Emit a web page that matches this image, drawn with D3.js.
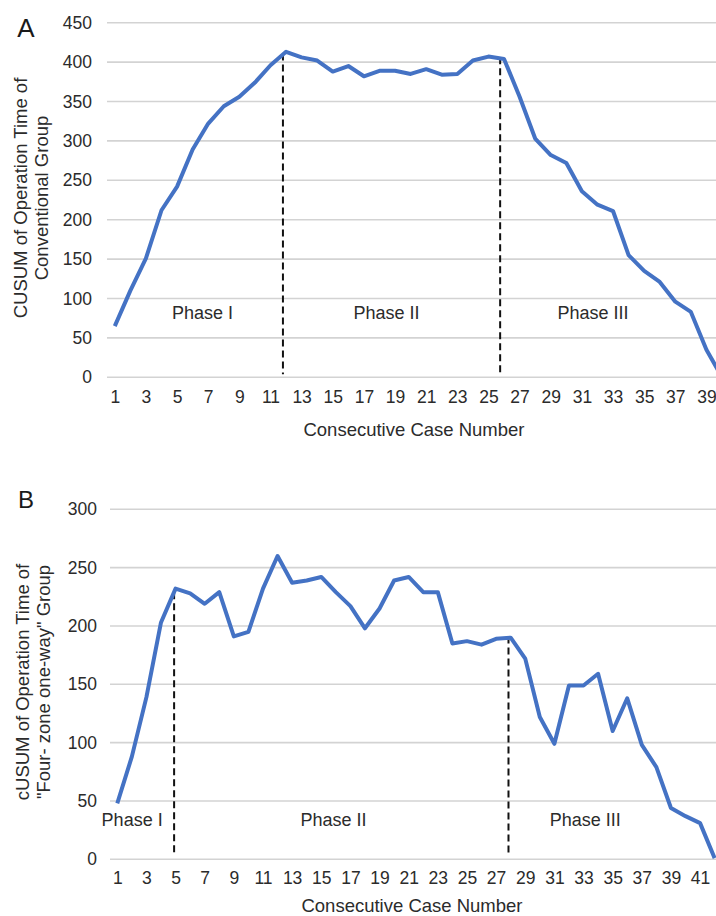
<!DOCTYPE html>
<html>
<head>
<meta charset="utf-8">
<script src="https://cdn.jsdelivr.net/npm/d3@7"></script>
<style>
  body { margin: 0; background: #fff; }
  svg { display: block; font-family: "Liberation Sans", Arial, Helvetica, sans-serif; }
</style>
</head>
<body>
<div id="chart"></div>
<script>
// ---- data ----
const casesA = d3.range(1, 41);
const cusumA = [65, 110, 151, 212, 242, 289, 322, 344, 356, 374,
                396, 413, 406, 402, 388, 395, 382, 389, 389, 385,
                391, 384, 385, 402, 407, 404, 356, 303, 282, 272,
                236, 219, 211, 155, 135, 121, 96, 83, 35, 0];
const yTicksA = [0, 50, 100, 150, 200, 250, 300, 350, 400, 450];
const breaksA = [{at: 11.8, top: 411}, {at: 25.75, top: 406}];
const phasesA = [{label: "Phase I", at: 6.63, v: 82},
                 {label: "Phase II", at: 18.45, v: 82},
                 {label: "Phase III", at: 31.72, v: 82}];

const casesB = d3.range(1, 43);
const cusumB = [48, 88, 139, 203, 232, 228, 219, 229, 191, 195,
                232, 260, 237, 239, 242, 229, 217, 198, 215, 239,
                242, 229, 229, 185, 187, 184, 189, 190, 172, 122,
                99, 149, 149, 159, 110, 138, 98, 79, 44, 37,
                31, 1];
const yTicksB = [0, 50, 100, 150, 200, 250, 300];
const breaksB = [{at: 4.9, top: 229}, {at: 27.85, top: 191}];
const phasesB = [{label: "Phase I", at: 2.02, v: 34},
                 {label: "Phase II", at: 15.84, v: 34},
                 {label: "Phase III", at: 33.12, v: 34}];

const width = 716, height = 916;
const svg = d3.select("#chart").append("svg")
  .attr("width", width)
  .attr("height", height);

function drawPanel(p) {
  const g = svg.append("g");

  const x = d3.scalePoint()
    .domain(p.cases)
    .range([p.left, p.left + p.cases.length * p.step])
    .padding(0.5);
  const xv = c => x(p.cases[0]) + (c - p.cases[0]) * x.step();

  const y = d3.scaleLinear()
    .domain([0, d3.max(p.yTicks)])
    .range([p.bottom, p.top]);

  // gridlines
  g.selectAll(".grid")
    .data(p.yTicks)
    .join("line")
    .attr("class", "grid")
    .attr("x1", p.left)
    .attr("x2", width + 20)
    .attr("y1", d => y(d))
    .attr("y2", d => y(d))
    .attr("stroke", "#d3d3d3")
    .attr("stroke-width", 1.6);

  // y axis labels
  const yAxis = d3.axisLeft(y).tickValues(p.yTicks).tickSize(0).tickPadding(p.left - p.yLabelRight);
  g.append("g")
    .attr("transform", `translate(${p.left},0)`)
    .call(yAxis)
    .call(a => a.select(".domain").remove())
    .selectAll("text")
    .attr("font-size", 17.5)
    .attr("font-family", "Liberation Sans, Arial, sans-serif")
    .attr("fill", "#2b2b2b");

  // x axis labels (odd cases)
  const xAxis = d3.axisBottom(x)
    .tickValues(p.cases.filter(c => c % 2 === 1))
    .tickSize(0)
    .tickPadding(p.xLabelGap);
  g.append("g")
    .attr("transform", `translate(0,${p.bottom})`)
    .call(xAxis)
    .call(a => a.select(".domain").remove())
    .selectAll("text")
    .attr("font-size", 17.5)
    .attr("font-family", "Liberation Sans, Arial, sans-serif")
    .attr("fill", "#2b2b2b");

  // dashed phase breaks
  g.selectAll(".brk")
    .data(p.breaks)
    .join("line")
    .attr("class", "brk")
    .attr("x1", d => xv(d.at))
    .attr("x2", d => xv(d.at))
    .attr("y1", d => y(d.top))
    .attr("y2", y(0) - 3)
    .attr("stroke", "#111")
    .attr("stroke-width", 2)
    .attr("stroke-dasharray", "7,4");

  // CUSUM line
  const line = d3.line()
    .x((d, i) => x(p.cases[i]))
    .y(d => y(d));
  g.append("path")
    .datum(p.values)
    .attr("d", line)
    .attr("fill", "none")
    .attr("stroke", "#4472c4")
    .attr("stroke-width", 4)
    .attr("stroke-linejoin", "round");

  // phase labels
  g.selectAll(".phase")
    .data(p.phases)
    .join("text")
    .attr("class", "phase")
    .attr("x", d => xv(d.at))
    .attr("y", d => y(d.v))
    .attr("dy", "0.35em")
    .attr("text-anchor", "middle")
    .attr("font-size", 18)
    .attr("fill", "#2b2b2b")
    .text(d => d.label);

  // y title (two lines, rotated)
  const yt = g.append("text")
    .attr("transform", `translate(${p.yTitleX},${p.yTitleY}) rotate(-90)`)
    .attr("text-anchor", "middle")
    .attr("font-size", 18.5)
    .attr("fill", "#2b2b2b");
  yt.append("tspan").attr("x", 0).attr("dy", "0.35em").text(p.yTitle[0]);
  yt.append("tspan").attr("x", 0).attr("dy", 21).text(p.yTitle[1]);

  // x title
  g.append("text")
    .attr("x", p.xTitleX)
    .attr("y", p.xTitleY)
    .attr("dy", "0.35em")
    .attr("text-anchor", "middle")
    .attr("font-size", 18.5)
    .attr("fill", "#2b2b2b")
    .text("Consecutive Case Number");

  // panel letter
  g.append("text")
    .attr("x", p.letterX)
    .attr("y", p.letterY)
    .attr("dy", "0.35em")
    .attr("text-anchor", "middle")
    .attr("font-size", p.letterSize)
    .attr("fill", "#1a1a1a")
    .text(p.letter);
}

drawPanel({
  cases: casesA, values: cusumA, yTicks: yTicksA, breaks: breaksA, phases: phasesA,
  left: 107, step: 15.57, top: 22.7, bottom: 377.3,
  yLabelRight: 92, xLabelGap: 13,
  yTitle: ["CUSUM of Operation Time of", "Conventional Group"],
  yTitleX: 20.7, yTitleY: 198,
  xTitleX: 414, xTitleY: 430,
  letter: "A", letterX: 26, letterY: 28, letterSize: 26
});

drawPanel({
  cases: casesB, values: cusumB, yTicks: yTicksB, breaks: breaksB, phases: phasesB,
  left: 110, step: 14.57, top: 509.3, bottom: 859.3,
  yLabelRight: 97, xLabelGap: 12,
  yTitle: ["cUSUM of Operation Time of", "\"Four- zone one-way\" Group"],
  yTitleX: 22.7, yTitleY: 682,
  xTitleX: 412, xTitleY: 906,
  letter: "B", letterX: 26, letterY: 500, letterSize: 24
});
</script>
</body>
</html>
